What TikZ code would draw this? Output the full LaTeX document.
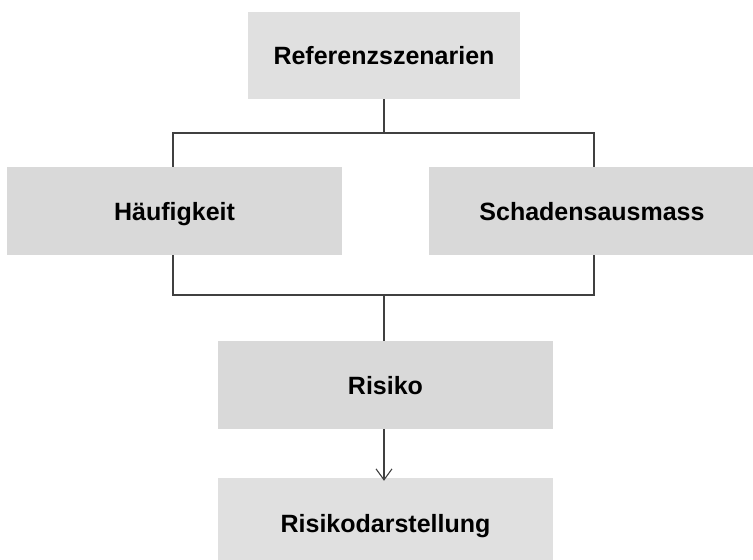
\documentclass[tikz,border=0pt]{standalone}
\usepackage{fontspec}
\setmainfont{Liberation Sans}
\usetikzlibrary{arrows.meta}
\definecolor{boxA}{HTML}{E0E0E0}
\definecolor{boxB}{HTML}{D9D9D9}
\definecolor{lineg}{HTML}{404040}
\begin{document}
\begin{tikzpicture}[x=1pt,y=-1pt,
  box/.style={fill=#1,draw=none,inner sep=0pt,text height=18pt,text depth=0pt,font=\bfseries\fontsize{25}{30}\selectfont},
  conn/.style={draw=lineg,line width=1.1pt},
]
\useasboundingbox (0,0) rectangle (753,560);
\node[box=boxA,minimum width=272pt,minimum height=87pt] (ref) at (384,55.5) {Referenzszenarien};
\node[box=boxB,minimum width=335pt,minimum height=88pt] (hau) at (174.5,211) {Häufigkeit};
\node[box=boxB,minimum width=326pt,minimum height=88pt] (sch) at (592,211) {Schadensausmass};
\node[box=boxB,minimum width=335pt,minimum height=88pt] (ris) at (385.5,385) {Risiko};
\node[box=boxA,minimum width=335pt,minimum height=90pt] (dar) at (385.5,523) {Risikodarstellung};
\coordinate (t1) at (173,133);
\coordinate (t2) at (594,133);
\coordinate (tm) at (384,133);
\coordinate (b1) at (173,295);
\coordinate (b2) at (594,295);
\coordinate (bm) at (384,295);
\draw[conn] (ref.south -| tm) -- (tm);
\draw[conn] (hau.north -| t1) -- (t1) -- (t2) -- (sch.north -| t2);
\draw[conn] (hau.south -| b1) -- (b1) -- (b2) -- (sch.south -| b2);
\draw[conn] (bm) -- (ris.north -| bm);
\draw[conn,-{Straight Barb[length=11pt,width=16pt]}] (ris.south -| bm) -- ([yshift=-3pt]dar.north -| bm);
\end{tikzpicture}
\end{document}
